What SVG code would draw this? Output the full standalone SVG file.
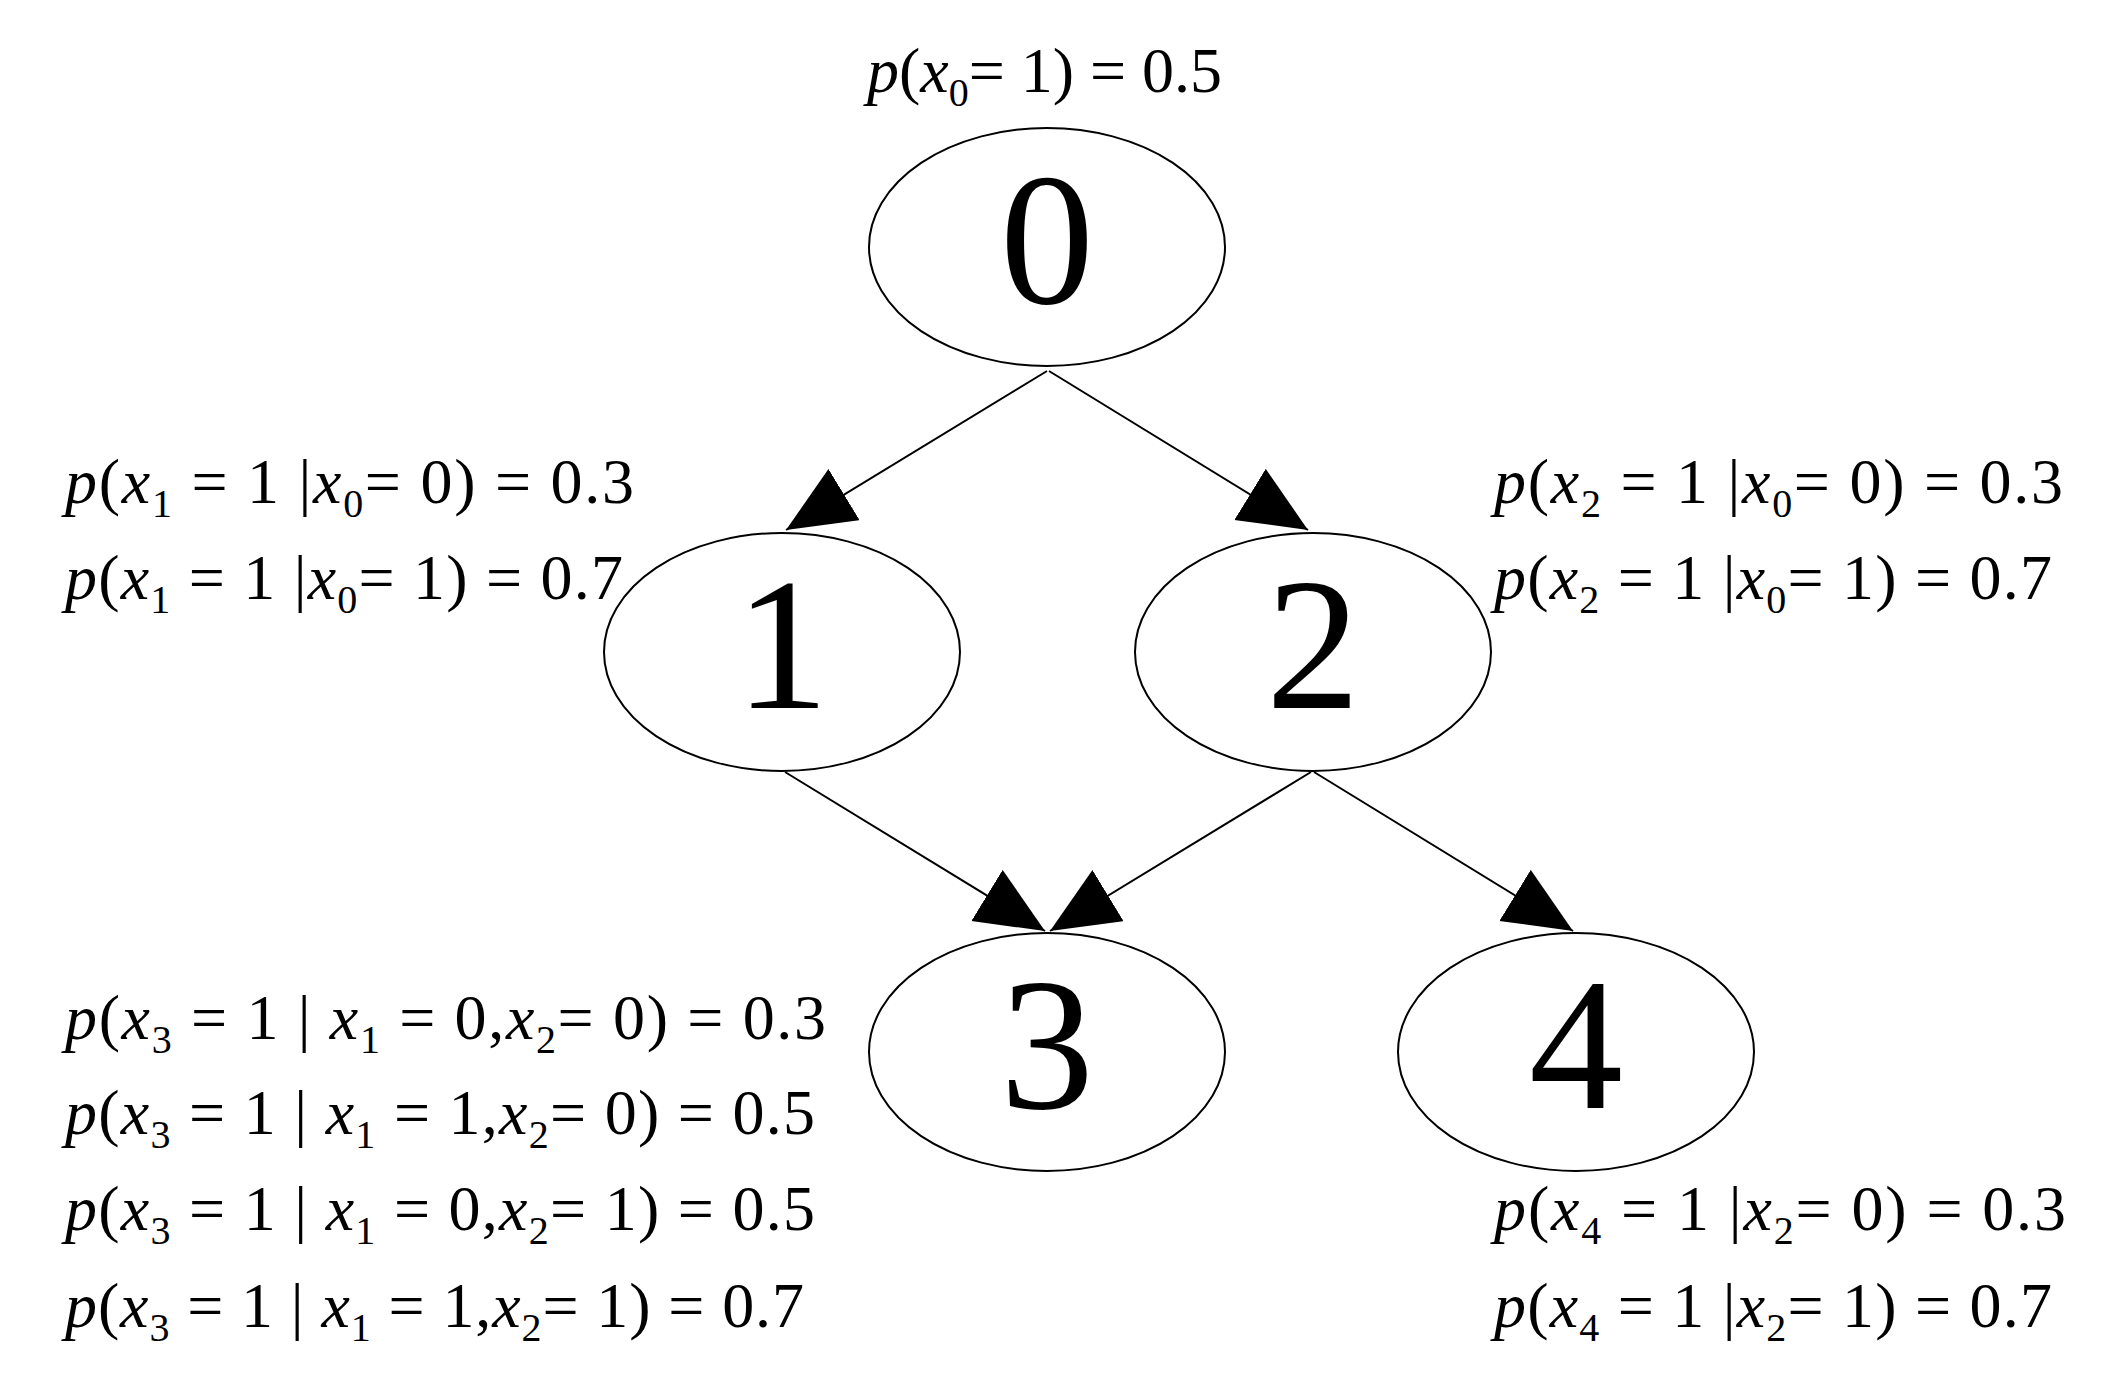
<svg xmlns="http://www.w3.org/2000/svg" width="2104" height="1391" viewBox="0 0 2104 1391">
<style>
.n{fill:#fff;stroke:#000;stroke-width:2}
.d{font-family:"Liberation Serif",serif;font-size:188px;text-anchor:middle}
.l{font-family:"Liberation Serif",serif;font-size:64px}
.i{font-style:italic}
.s{font-size:40px}
.e{stroke:#000;stroke-width:2;fill:none;marker-end:url(#a)}
</style>
<defs><marker id="a" markerUnits="userSpaceOnUse" markerWidth="80" markerHeight="70" refX="68" refY="30" orient="auto"><path d="M0,0 L68,30 L0,60 Z" fill="#000"/></marker></defs>
<rect width="2104" height="1391" fill="#fff"/>
<g id="edges">
<line class="e" x1="1047" y1="371" x2="786" y2="530"/>
<line class="e" x1="1049" y1="371" x2="1308" y2="530"/>
<line class="e" x1="785" y1="772" x2="1045" y2="931"/>
<line class="e" x1="1311" y1="772" x2="1050" y2="931"/>
<line class="e" x1="1314" y1="772" x2="1573" y2="931"/>
</g>
<g id="node0"><ellipse class="n" cx="1047" cy="247" rx="178" ry="119"/><text class="d" x="1047" y="303">0</text></g>
<g id="node1"><ellipse class="n" cx="782" cy="652" rx="178" ry="119"/><text class="d" x="782" y="708">1</text></g>
<g id="node2"><ellipse class="n" cx="1313" cy="652" rx="178" ry="119"/><text class="d" x="1313" y="708">2</text></g>
<g id="node3"><ellipse class="n" cx="1047" cy="1052" rx="178" ry="119"/><text class="d" x="1047" y="1108">3</text></g>
<g id="node4"><ellipse class="n" cx="1576" cy="1052" rx="178" ry="119"/><text class="d" x="1576" y="1108">4</text></g>
<g id="labels" class="l">
<text x="867" y="92" textLength="355" lengthAdjust="spacing"><tspan class="i">p</tspan>(<tspan class="i">x</tspan><tspan class="s" dy="14">0</tspan><tspan dy="-14">= 1) = 0.5</tspan></text>
<text x="65" y="503" textLength="569" lengthAdjust="spacing"><tspan class="i">p</tspan>(<tspan class="i">x</tspan><tspan class="s" dy="14">1</tspan><tspan dy="-14"> = 1 |</tspan><tspan class="i">x</tspan><tspan class="s" dy="14">0</tspan><tspan dy="-14">= 0) = 0.3</tspan></text>
<text x="65" y="599" textLength="558" lengthAdjust="spacing"><tspan class="i">p</tspan>(<tspan class="i">x</tspan><tspan class="s" dy="14">1</tspan><tspan dy="-14"> = 1 |</tspan><tspan class="i">x</tspan><tspan class="s" dy="14">0</tspan><tspan dy="-14">= 1) = 0.7</tspan></text>
<text x="1494" y="503" textLength="569" lengthAdjust="spacing"><tspan class="i">p</tspan>(<tspan class="i">x</tspan><tspan class="s" dy="14">2</tspan><tspan dy="-14"> = 1 |</tspan><tspan class="i">x</tspan><tspan class="s" dy="14">0</tspan><tspan dy="-14">= 0) = 0.3</tspan></text>
<text x="1494" y="599" textLength="558" lengthAdjust="spacing"><tspan class="i">p</tspan>(<tspan class="i">x</tspan><tspan class="s" dy="14">2</tspan><tspan dy="-14"> = 1 |</tspan><tspan class="i">x</tspan><tspan class="s" dy="14">0</tspan><tspan dy="-14">= 1) = 0.7</tspan></text>
<text x="65" y="1039" textLength="761" lengthAdjust="spacing"><tspan class="i">p</tspan>(<tspan class="i">x</tspan><tspan class="s" dy="14">3</tspan><tspan dy="-14"> = 1 | </tspan><tspan class="i">x</tspan><tspan class="s" dy="14">1</tspan><tspan dy="-14"> = 0,</tspan><tspan class="i">x</tspan><tspan class="s" dy="14">2</tspan><tspan dy="-14">= 0) = 0.3</tspan></text>
<text x="65" y="1134" textLength="750" lengthAdjust="spacing"><tspan class="i">p</tspan>(<tspan class="i">x</tspan><tspan class="s" dy="14">3</tspan><tspan dy="-14"> = 1 | </tspan><tspan class="i">x</tspan><tspan class="s" dy="14">1</tspan><tspan dy="-14"> = 1,</tspan><tspan class="i">x</tspan><tspan class="s" dy="14">2</tspan><tspan dy="-14">= 0) = 0.5</tspan></text>
<text x="65" y="1230" textLength="750" lengthAdjust="spacing"><tspan class="i">p</tspan>(<tspan class="i">x</tspan><tspan class="s" dy="14">3</tspan><tspan dy="-14"> = 1 | </tspan><tspan class="i">x</tspan><tspan class="s" dy="14">1</tspan><tspan dy="-14"> = 0,</tspan><tspan class="i">x</tspan><tspan class="s" dy="14">2</tspan><tspan dy="-14">= 1) = 0.5</tspan></text>
<text x="65" y="1327" textLength="739" lengthAdjust="spacing"><tspan class="i">p</tspan>(<tspan class="i">x</tspan><tspan class="s" dy="14">3</tspan><tspan dy="-14"> = 1 | </tspan><tspan class="i">x</tspan><tspan class="s" dy="14">1</tspan><tspan dy="-14"> = 1,</tspan><tspan class="i">x</tspan><tspan class="s" dy="14">2</tspan><tspan dy="-14">= 1) = 0.7</tspan></text>
<text x="1494" y="1230" textLength="572" lengthAdjust="spacing"><tspan class="i">p</tspan>(<tspan class="i">x</tspan><tspan class="s" dy="14">4</tspan><tspan dy="-14"> = 1 |</tspan><tspan class="i">x</tspan><tspan class="s" dy="14">2</tspan><tspan dy="-14">= 0) = 0.3</tspan></text>
<text x="1494" y="1327" textLength="558" lengthAdjust="spacing"><tspan class="i">p</tspan>(<tspan class="i">x</tspan><tspan class="s" dy="14">4</tspan><tspan dy="-14"> = 1 |</tspan><tspan class="i">x</tspan><tspan class="s" dy="14">2</tspan><tspan dy="-14">= 1) = 0.7</tspan></text>
</g>
</svg>
